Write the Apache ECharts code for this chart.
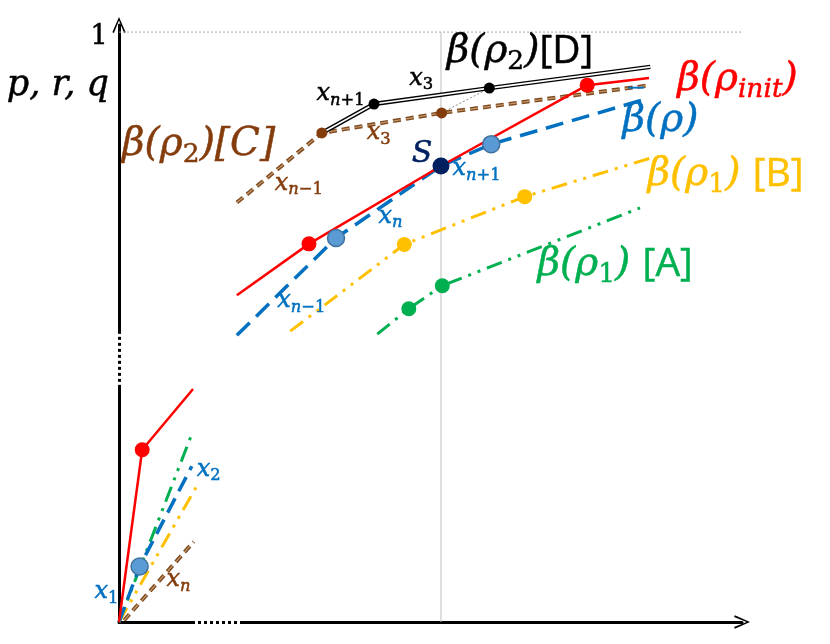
<!DOCTYPE html>
<html>
<head>
    <meta charset="utf-8">
    <title>beta curves</title>
    <script src="https://cdn.jsdelivr.net/npm/echarts@6/dist/echarts.min.js"></script>
    <style>
        html, body {margin: 0; padding: 0; background: #fff;}
        #main {width: 830px; height: 644px;}
    </style>
</head>
<body>
<div id="main"></div>
<script>
    // curves (x: S sits at 0.5, y: 1 is the top line)
    var redLow = [[0, 0], [0.036, 0.292], [0.115, 0.395]];
    var redHigh = [[0.183, 0.554], [0.295, 0.641], [0.5, 0.773], [0.727, 0.910], [0.823, 0.922]];
    var redDots = [[0.036, 0.292], [0.295, 0.641], [0.727, 0.910]];

    var blueLow = [[0, 0], [0.032, 0.094], [0.113, 0.264]];
    var blueHigh = [[0.183, 0.486], [0.337, 0.651], [0.5, 0.773], [0.578, 0.810], [0.823, 0.888]];
    var blueDots = [[0.032, 0.094], [0.337, 0.651], [0.578, 0.810]];

    var greenLow = [[0, 0], [0.115, 0.324]];
    var greenHigh = [[0.401, 0.488], [0.450, 0.531], [0.502, 0.570], [0.809, 0.702]];
    var greenDots = [[0.450, 0.531], [0.502, 0.570]];

    var yellowLow = [[0, 0], [0.120, 0.229]];
    var yellowHigh = [[0.266, 0.493], [0.443, 0.640], [0.630, 0.721], [0.830, 0.788]];
    var yellowDots = [[0.443, 0.640], [0.630, 0.721]];

    var brownLow = [[0.008, 0.003], [0.116, 0.136]];
    var brownHigh = [[0.183, 0.711], [0.315, 0.829], [0.501, 0.863], [0.825, 0.910]];
    var brownDots = [[0.315, 0.829], [0.501, 0.863]];

    var blackLine = [[0.315, 0.829], [0.396, 0.878], [0.575, 0.905], [0.825, 0.941]];
    var blackDots = [[0.396, 0.878], [0.575, 0.905]];
    var linkLine = [[0.501, 0.863], [0.575, 0.905]];

    var sPoint = [[0.5, 0.773]];
    var topLine = [[0, 1], [1.057, 1]];
    var midLine = [[0.5, 0], [0.5, 1]];
    var yBreak = [[0, 0.402], [0, 0.492]];
    var xBreak = [[0.118, 0], [0.188, 0]];

    // annotations: [x, y, text, colour, size]
    var notes = [
        [-0.175, 0.905, '{m|p, r, q}', '#000', 35],
        [-0.045, 0.990, '{n|1}', '#000', 27],
        [0.004, 0.805, '{m|β(ρ}{d|2}{m|)[C]}', '#843C0C', 39],
        [0.508, 0.963, '{m|β(ρ}{d|2}{m|)}{u|[D]}', '#000', 39],
        [0.866, 0.915, '{m|β(ρ}{s|init}{m|)}', '#FF0000', 39],
        [0.781, 0.847, '{m|β(ρ)}', '#0070C0', 39],
        [0.790, 0.870, '{o|‾}', '#0070C0', 39],
        [0.820, 0.754, '{m|β(ρ}{d|1}{m|) }{u|[B]}', '#FFC000', 39],
        [0.649, 0.602, '{m|β(ρ}{d|1}{m|) }{u|[A]}', '#00B050', 39],
        [0.454, 0.790, '{m|S}', '#002060', 30],
        [0.306, 0.893, '{m|x}{s|n}{d|+1}', '#000', 24],
        [0.450, 0.919, '{m|x}{d|3}', '#000', 24],
        [0.384, 0.827, '{m|x}{d|3}', '#843C0C', 24],
        [0.241, 0.741, '{m|x}{s|n}{d|−1}', '#843C0C', 24],
        [0.517, 0.766, '{m|x}{s|n}{d|+1}', '#0070C0', 24],
        [0.402, 0.685, '{m|x}{s|n}', '#0070C0', 24],
        [0.245, 0.542, '{m|x}{s|n}{d|−1}', '#0070C0', 24],
        [0.120, 0.256, '{m|x}{d|2}', '#0070C0', 24],
        [0.073, 0.069, '{m|x}{s|n}', '#843C0C', 24],
        [-0.039, 0.049, '{m|x}{d|1}', '#0070C0', 24]
    ];

    var SERIF = 'DejaVu Serif';

    function tok(size, lh, align, family, italic, color) {
        return {
            fontSize: size, lineHeight: lh, verticalAlign: align, fontFamily: family,
            fontStyle: italic ? 'italic' : 'normal', color: color, opacity: 1,
            textBorderColor: color, textBorderWidth: 0.5
        };
    }

    function richFor(size, color) {
        return {
            m: tok(size, size * 1.1, 'top', SERIF, true, color),
            n: tok(size, size * 1.1, 'top', SERIF, false, color),
            o: tok(size * 0.8, size * 1.1, 'top', SERIF, false, color),
            u: tok(size, size * 1.1, 'top', 'Open Sans', false, color),
            s: tok(size * 0.68, size * 0.4, 'bottom', SERIF, true, color),
            d: tok(size * 0.68, size * 0.4, 'bottom', SERIF, false, color)
        };
    }

    function curve(data, color, width, type, z) {
        return {
            type: 'line', data: data, symbol: 'none', clip: false, silent: true, z: z || 3,
            lineStyle: {color: color, width: width, type: type, cap: 'butt'}
        };
    }

    function dots(data, color, size, border) {
        return {
            type: 'scatter', data: data, symbolSize: size, clip: false, silent: true, z: 6,
            itemStyle: {color: color, borderColor: border || color, borderWidth: border ? 1.5 : 0, opacity: 1}
        };
    }

    var dashDotDot = [16, 7, 3, 7, 3, 7];
    var arrow = 'path://M0,16 L7,0 L14,16 L12.4,16.9 L7,3.6 L1.6,16.9 Z';

    var noteItems = notes.map(function (n) {
        return {
            value: [n[0], n[1]],
            label: {
                show: true, position: 'right', distance: 0, formatter: n[2],
                color: n[3], opacity: 1, rich: richFor(n[4], n[3])
            }
        };
    });

    var chart = echarts.init(document.getElementById('main'));
    chart.setOption({
        animation: false,
        backgroundColor: '#fff',
        grid: {left: 119, top: 25, width: 623, height: 597},
        xAxis: {
            type: 'value', min: 0, max: 0.9674,
            splitLine: {show: false}, axisTick: {show: false}, axisLabel: {show: false},
            axisLine: {show: true, symbol: ['none', arrow], symbolSize: [14, 16], lineStyle: {color: '#000', width: 3}}
        },
        yAxis: {
            type: 'value', min: 0, max: 1.012,
            splitLine: {show: false}, axisTick: {show: false}, axisLabel: {show: false},
            axisLine: {show: true, symbol: ['none', arrow], symbolSize: [14, 16], lineStyle: {color: '#000', width: 3}}
        },
        series: [
            curve(topLine, '#A6A6A6', 1, [2, 2], 1),
            curve(midLine, '#BFBFBF', 1, 'solid', 1),
            curve(yBreak, '#fff', 5, [3, 3], 2),
            curve(xBreak, '#fff', 5, [3, 3], 2),

            curve(brownLow, '#7F4A1E', 4, [8, 5]),
            curve(brownLow, '#C49A72', 1.2, [8, 5], 4),
            curve(brownHigh, '#7F4A1E', 4, [8, 5]),
            curve(brownHigh, '#C49A72', 1.2, [8, 5], 4),
            curve(linkLine, '#8C8C8C', 1, [2, 2]),
            curve(blackLine, '#000', 4.5, 'solid'),
            curve(blackLine, '#fff', 1.6, 'solid', 4),

            curve(yellowLow, '#FFC000', 3, dashDotDot),
            curve(yellowHigh, '#FFC000', 3, dashDotDot),
            curve(greenLow, '#00B050', 3, dashDotDot),
            curve(greenHigh, '#00B050', 3, dashDotDot),
            curve(blueLow, '#0070C0', 3.5, [16, 8]),
            curve(blueHigh, '#0070C0', 3.5, [18, 9]),
            curve(redLow, '#FF0000', 2.5, 'solid', 5),
            curve(redHigh, '#FF0000', 2.5, 'solid', 5),

            dots(redDots, '#FF0000', 15),
            dots(blueDots, '#5B9BD5', 17, '#41719C'),
            dots(greenDots, '#00B050', 15),
            dots(yellowDots, '#FFC000', 15),
            dots(brownDots, '#843C0C', 11),
            dots(blackDots, '#000', 11),
            dots(sPoint, '#002060', 17),
            {
                type: 'scatter', data: noteItems, symbolSize: 1, clip: false, silent: true, z: 10,
                itemStyle: {color: 'rgba(0,0,0,0)'}
            }
        ]
    });
</script>
</body>
</html>
